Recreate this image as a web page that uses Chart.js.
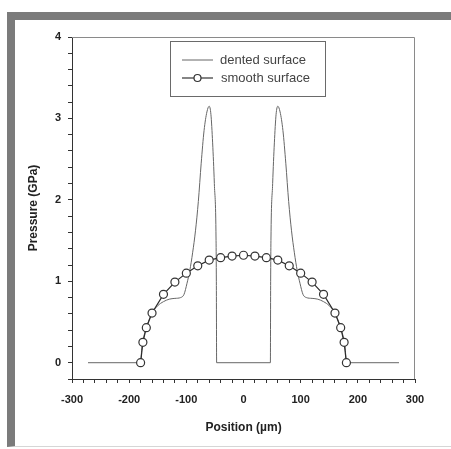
<!DOCTYPE html>
<html>
<head>
<meta charset="utf-8">
<title>Pressure profile</title>
<script src="https://cdn.jsdelivr.net/npm/chart.js@4.4.1/dist/chart.umd.min.js"></script>
<style>
  html, body { margin: 0; padding: 0; background: #fff; }
  #wrap { position: relative; width: 451px; height: 449px; overflow: hidden; }
  #frame {
    position: absolute; left: 7px; top: 12px; right: 0; bottom: 2px;
    border-top: 8px solid #7b7b7b; border-left: 8px solid #7b7b7b;
    border-bottom: 1px solid #d6d6d6;
  }
  #box { position: absolute; left: 0; top: 0; width: 451px; height: 449px; }
</style>
</head>
<body>
<div id="wrap">
  <div id="frame"></div>
  <div id="box"><canvas id="chart"></canvas></div>
</div>
<script>
// series data (position in µm, pressure in GPa)
const dentedX = [-272, -180, -178, -175, -170, -160, -150, -140, -130, -120, -110, -104, -99, -94, -89, -84, -79, -74, -69, -64, -60, -57, -54, -51, -48, -47.5, -47,
                 47, 47.5, 48, 51, 54, 57, 60, 64, 69, 74, 79, 84, 89, 94, 99, 104, 110, 120, 130, 140, 150, 160, 170, 175, 178, 180, 272];
const dentedY = [0, 0, 0.17, 0.3, 0.43, 0.61, 0.7, 0.75, 0.78, 0.79, 0.8, 0.84, 0.97, 1.13, 1.35, 1.62, 1.98, 2.45, 2.85, 3.08, 3.15, 3.05, 2.7, 2.2, 1.5, 1.0, 0,
                 0, 1.0, 1.5, 2.2, 2.7, 3.05, 3.15, 3.08, 2.85, 2.45, 1.98, 1.62, 1.35, 1.13, 0.97, 0.84, 0.8, 0.79, 0.78, 0.75, 0.7, 0.61, 0.43, 0.3, 0.17, 0, 0];

const smoothX = [-180, -176, -170, -160, -140, -120, -100, -80, -60, -40, -20, 0, 20, 40, 60, 80, 100, 120, 140, 160, 170, 176, 180];
const smoothY = [0, 0.25, 0.43, 0.61, 0.84, 0.99, 1.1, 1.19, 1.26, 1.29, 1.31, 1.32, 1.31, 1.29, 1.26, 1.19, 1.1, 0.99, 0.84, 0.61, 0.43, 0.25, 0];

const seriesNames = ['dented surface', 'smooth surface'];
const xTickLabels = [-300, -200, -100, 0, 100, 200, 300];
const yTickLabels = [0, 1, 2, 3, 4];

const toPoints = (xs, ys) => xs.map((x, i) => ({ x: x, y: ys[i] }));

const tickFont = { family: '"Liberation Sans", Arial, sans-serif', size: 11, weight: 'bold' };
const titleFont = { family: '"Liberation Sans", Arial, sans-serif', size: 12, weight: 'bold' };

// top/right frame lines and the boxed legend inside the plot
const boxPlugin = {
  id: 'boxLegend',
  beforeDatasetsDraw(chart) {
    const { ctx, chartArea: a } = chart;
    ctx.save();
    ctx.strokeStyle = '#8a8a8a';
    ctx.lineWidth = 1;
    ctx.beginPath();
    ctx.moveTo(a.left, a.top + 0.5);
    ctx.lineTo(a.right - 0.5, a.top + 0.5);
    ctx.lineTo(a.right - 0.5, a.bottom);
    ctx.stroke();
    ctx.restore();
  },
  afterDatasetsDraw(chart) {
    const { ctx, chartArea: a } = chart;
    const lx = a.left + 98, ly = a.top + 4, lw = 155, lh = 55;
    ctx.save();
    ctx.fillStyle = '#fff';
    ctx.fillRect(lx, ly, lw, lh);
    ctx.strokeStyle = '#6a6a6a';
    ctx.lineWidth = 1;
    ctx.strokeRect(lx + 0.5, ly + 0.5, lw, lh);

    ctx.font = '13px "Liberation Sans", Arial, sans-serif';
    ctx.textBaseline = 'middle';
    ctx.fillStyle = '#444';
    const rows = [ly + 19, ly + 37];
    // dented surface sample
    ctx.strokeStyle = '#666';
    ctx.lineWidth = 1;
    ctx.beginPath();
    ctx.moveTo(lx + 12, rows[0]);
    ctx.lineTo(lx + 43, rows[0]);
    ctx.stroke();
    ctx.fillText(seriesNames[0], lx + 50, rows[0]);
    // smooth surface sample
    ctx.strokeStyle = '#333';
    ctx.lineWidth = 1.2;
    ctx.beginPath();
    ctx.moveTo(lx + 12, rows[1]);
    ctx.lineTo(lx + 43, rows[1]);
    ctx.stroke();
    ctx.beginPath();
    ctx.arc(lx + 27.5, rows[1], 3.5, 0, Math.PI * 2);
    ctx.fillStyle = '#fff';
    ctx.fill();
    ctx.stroke();
    ctx.fillStyle = '#444';
    ctx.fillText(seriesNames[1], lx + 51, rows[1]);
    ctx.restore();
  }
};

new Chart(document.getElementById('chart'), {
  type: 'line',
  data: {
    datasets: [{
      label: seriesNames[1],
      data: toPoints(smoothX, smoothY),
      borderColor: '#2a2a2a',
      borderWidth: 1.2,
      backgroundColor: '#fff',
      pointRadius: 4,
      pointBorderWidth: 1.2,
      pointBorderColor: '#333',
      pointBackgroundColor: '#fff',
      tension: 0
    }, {
      label: seriesNames[0],
      data: toPoints(dentedX, dentedY),
      borderColor: '#666',
      borderWidth: 1,
      pointRadius: 0,
      cubicInterpolationMode: 'monotone'
    }]
  },
  options: {
    responsive: true,
    maintainAspectRatio: false,
    animation: false,
    layout: { padding: { left: 0, top: 37, right: 36, bottom: 0 } },
    plugins: {
      legend: { display: false },
      tooltip: { enabled: false }
    },
    scales: {
      x: {
        type: 'linear',
        min: -300, max: 300,
        afterFit: s => { s.height = 70; },
        border: { display: true, color: '#333', width: 1 },
        grid: { drawOnChartArea: false, drawTicks: true, tickLength: 4, tickColor: '#333' },
        ticks: {
          stepSize: 20, autoSkip: false, maxRotation: 0, minRotation: 0,
          padding: 10, color: '#222', font: tickFont,
          callback: v => xTickLabels.includes(Math.round(v)) && Math.abs(v % 100) < 1e-6 ? String(Math.round(v)) : ''
        },
        title: { display: true, text: 'Position (µm)', color: '#222', font: titleFont, padding: { top: 0, bottom: 14 } }
      },
      y: {
        type: 'linear',
        min: -0.2, max: 4,
        afterFit: s => { s.width = 72; },
        border: { display: true, color: '#333', width: 1 },
        grid: { drawOnChartArea: false, drawTicks: true, tickLength: 4, tickColor: '#333' },
        ticks: {
          stepSize: 0.2, autoSkip: false, padding: 7, color: '#222', font: tickFont,
          callback: v => {
            const r = Math.round(v);
            return Math.abs(v - r) < 1e-6 && yTickLabels.includes(r) ? String(r) : '';
          }
        },
        title: { display: true, text: 'Pressure (GPa)', color: '#222', font: titleFont, padding: { top: 26, bottom: 0 } }
      }
    }
  },
  plugins: [boxPlugin]
});
</script>
</body>
</html>
